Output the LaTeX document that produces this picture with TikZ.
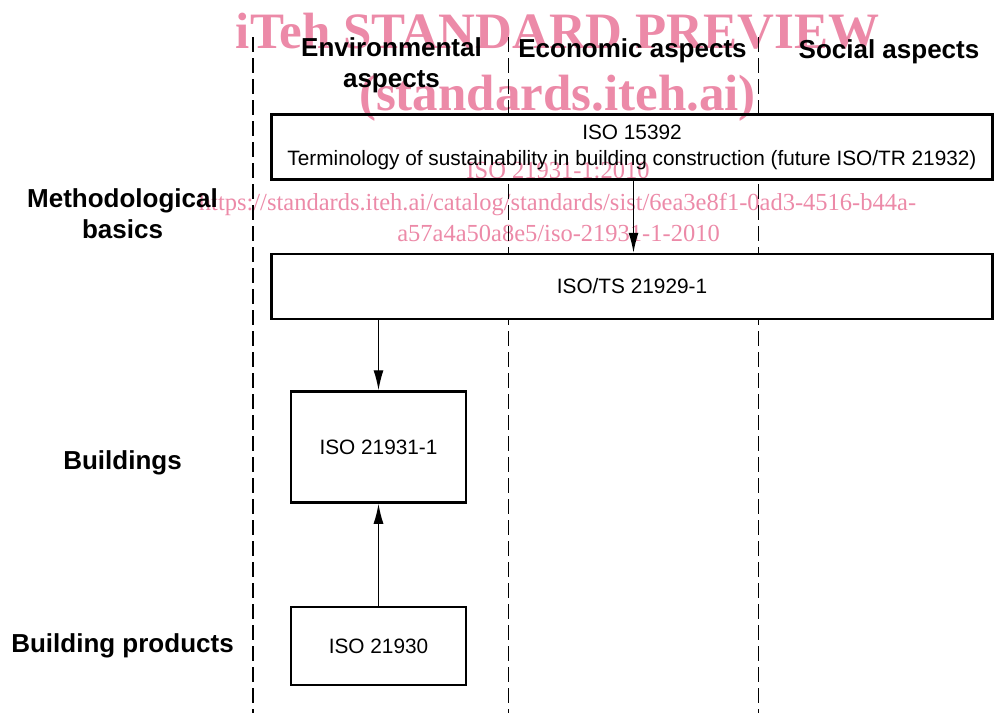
\documentclass[tikz,border=0pt]{standalone}
\usepackage{fontspec}
\setmainfont{Liberation Sans}
\newfontfamily\wmfont{Liberation Serif}
\usetikzlibrary{arrows.meta}
\definecolor{wmpink}{RGB}{236,138,168}

\begin{document}
\begin{tikzpicture}[x=1pt,y=-1pt,
  box/.style={draw,line width=2.5pt,fill=white,inner sep=0pt,align=center,font=\fontsize{20.8}{26}\selectfont},
  head/.style={font=\fontsize{26}{31}\selectfont\bfseries,align=center,anchor=base},
  link/.style={line width=1.3pt,-{Latex[length=20pt,width=10pt]}},
  lane/.style={line width=1.3pt,dash pattern=on 15pt off 6pt},
  wmbig/.style={text=wmpink,anchor=base,font=\wmfont\fontsize{51}{51}\selectfont\bfseries},
  wmsmall/.style={text=wmpink,anchor=base,font=\wmfont\fontsize{24.5}{30}\selectfont}]
  \useasboundingbox (0,0) rectangle (1003,713);
  % lanes
  \draw[lane] (253,37) -- (253,713);
  \draw[lane] (508.5,37) -- (508.5,713);
  \draw[lane] (758.5,37) -- (758.5,713);
  % standards
  \node[box,minimum width=721pt,minimum height=65pt] (iso15392) at (632,147)
    {ISO 15392\\Terminology of sustainability in building construction (future ISO/TR 21932)};
  \node[box,minimum width=721pt,minimum height=65pt] (iso21929) at (632,286.5) {ISO/TS 21929-1};
  \node[box,minimum width=175pt,minimum height=111pt] (iso21931) at (378.5,447) {ISO 21931-1};
  \node[box,minimum width=175pt,minimum height=78pt] (iso21930) at (378.5,646) {ISO 21930};
  \draw[link] ([xshift=1.5pt]iso15392.south) -- ([xshift=1.5pt]iso21929.north);
  \draw[link] (iso21931.north |- iso21929.south) -- (iso21931.north);
  \draw[link] (iso21930.north) -- (iso21931.south);
  % headings
  \node[head] (env) at (391.5,87) {Environmental\\aspects};
  \node[head] (eco) at (632.5,57) {Economic aspects};
  \node[head] (soc) at (889,58) {Social aspects};
  \node[head] (meth) at (122.5,238) {Methodological\\basics};
  \node[head] (bldg) at (122.5,469) {Buildings};
  \node[head] (prod) at (122.5,652) {Building products};
  % watermark
  \begin{scope}[blend mode=multiply]
  \node[wmbig] (wm1) at (557.5,48) {iTeh STANDARD PREVIEW};
  \node[wmbig] (wm2) at (557.5,110) {(standards.iteh.ai)};
  \node[wmsmall] (wm3) at (558,178) {ISO 21931-1:2010};
  \node[wmsmall] (wm4) at (557.5,210) {https://standards.iteh.ai/catalog/standards/sist/6ea3e8f1-0ad3-4516-b44a-};
  \node[wmsmall] (wm5) at (558.5,241) {a57a4a50a8e5/iso-21931-1-2010};
  \end{scope}
\end{tikzpicture}
\end{document}
